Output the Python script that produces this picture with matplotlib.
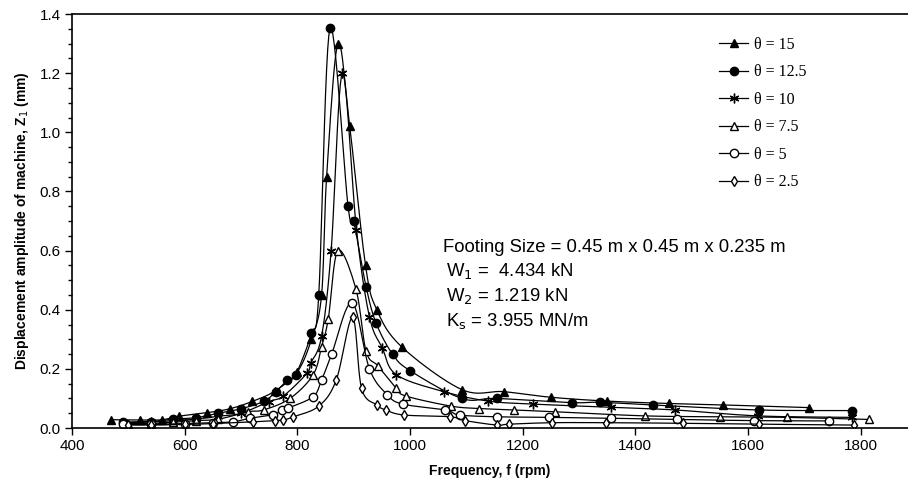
import numpy as np
import matplotlib
matplotlib.use("Agg")
import matplotlib.pyplot as plt
from matplotlib.ticker import MultipleLocator

# theta = 15
f15 = [470, 520, 560, 590, 640, 680, 720, 760, 800, 825, 843, 852, 872, 893, 921, 941, 985, 1092, 1166, 1250, 1350, 1459, 1556, 1709]
z15 = [0.028, 0.027, 0.028, 0.040, 0.052, 0.065, 0.090, 0.125, 0.190, 0.300, 0.450, 0.850, 1.300, 1.020, 0.550, 0.400, 0.275, 0.130, 0.123, 0.104, 0.091, 0.083, 0.078, 0.069]
# theta = 12.5
f125 = [490, 540, 580, 620, 660, 700, 740, 762, 782, 797, 825, 838, 858, 890, 900, 922, 940, 969, 1000, 1092, 1154, 1287, 1337, 1431, 1620, 1784]
z125 = [0.020, 0.022, 0.030, 0.035, 0.050, 0.065, 0.090, 0.123, 0.162, 0.180, 0.320, 0.450, 1.353, 0.750, 0.700, 0.478, 0.354, 0.250, 0.194, 0.100, 0.100, 0.086, 0.087, 0.078, 0.061, 0.059]
# theta = 10
f10 = [490, 540, 580, 620, 660, 700, 749, 775, 817, 824, 843, 860, 880, 905, 928, 951, 976, 1060, 1139, 1218, 1356, 1471, 1618, 1784]
z10 = [0.018, 0.020, 0.025, 0.030, 0.040, 0.050, 0.089, 0.108, 0.185, 0.220, 0.310, 0.600, 1.200, 0.670, 0.376, 0.270, 0.180, 0.123, 0.091, 0.081, 0.070, 0.061, 0.041, 0.036]
# theta = 7.5
f75 = [500, 540, 580, 620, 660, 713, 740, 787, 828, 843, 855, 872, 904, 922, 943, 976, 993, 1073, 1123, 1185, 1257, 1417, 1550, 1669, 1815]
z75 = [0.015, 0.015, 0.020, 0.025, 0.030, 0.055, 0.061, 0.100, 0.180, 0.275, 0.370, 0.600, 0.470, 0.260, 0.210, 0.134, 0.108, 0.074, 0.066, 0.061, 0.055, 0.041, 0.038, 0.036, 0.029]
# theta = 5
f5 = [490, 540, 600, 650, 686, 716, 757, 772, 784, 828, 843, 861, 897, 928, 960, 987, 1063, 1088, 1155, 1246, 1357, 1474, 1611, 1743]
z5 = [0.012, 0.012, 0.015, 0.018, 0.021, 0.033, 0.045, 0.060, 0.068, 0.106, 0.162, 0.250, 0.424, 0.200, 0.112, 0.081, 0.061, 0.044, 0.038, 0.036, 0.033, 0.029, 0.025, 0.024]
# theta = 2.5
f25 = [500, 540, 600, 650, 722, 760, 775, 793, 838, 869, 898, 914, 941, 957, 989, 1071, 1098, 1154, 1176, 1252, 1348, 1485, 1620, 1788]
z25 = [0.010, 0.010, 0.012, 0.015, 0.021, 0.025, 0.027, 0.038, 0.074, 0.162, 0.374, 0.134, 0.078, 0.061, 0.044, 0.038, 0.025, 0.010, 0.013, 0.018, 0.018, 0.016, 0.013, 0.010]

series = [
    (f15, z15, "θ = 15", dict(marker="^", mfc="black", ms=6)),
    (f125, z125, "θ = 12.5", dict(marker="o", mfc="black", ms=6)),
    (f10, z10, "θ = 10", dict(marker=(6, 2, 0), mfc="black", ms=7, mew=1.0)),
    (f75, z75, "θ = 7.5", dict(marker="^", mfc="white", ms=6)),
    (f5, z5, "θ = 5", dict(marker="o", mfc="white", ms=6)),
    (f25, z25, "θ = 2.5", dict(marker="d", mfc="white", ms=5)),
]


def smooth(x, y, n=12):
    # Catmull-Rom style smoothing between the points
    x = np.asarray(x, float)
    y = np.asarray(y, float)
    px = np.concatenate([[2*x[0]-x[1]], x, [2*x[-1]-x[-2]]])
    py = np.concatenate([[2*y[0]-y[1]], y, [2*y[-1]-y[-2]]])
    xs, ys = [], []
    t = np.linspace(0, 1, n, endpoint=False)
    for i in range(1, len(px)-2):
        for arr, out in ((px, xs), (py, ys)):
            p0, p1, p2, p3 = arr[i-1], arr[i], arr[i+1], arr[i+2]
            out.extend(0.5*((2*p1) + (-p0+p2)*t + (2*p0-5*p1+4*p2-p3)*t**2 + (-p0+3*p1-3*p2+p3)*t**3))
    xs.append(x[-1]); ys.append(y[-1])
    return np.array(xs), np.array(ys)


fig = plt.figure(figsize=(9.08, 4.86), dpi=100)
ax = fig.add_axes([0.0793, 0.1193, 0.9207, 0.8518])

handles = []
for f, z, lab, st in series:
    sx, sy = smooth(f, z)
    ax.plot(sx, sy, color="black", lw=0.9)
    ax.plot(f, z, ls="none", mec="black", color="black", **st)
    h, = ax.plot([], [], color="black", lw=0.9, **st)
    handles.append((h, lab))

ax.set_xlim(400, 1884)
ax.set_ylim(0, 1.4)
ax.xaxis.set_major_locator(MultipleLocator(200))
ax.yaxis.set_major_locator(MultipleLocator(0.2))
ax.yaxis.set_minor_locator(MultipleLocator(0.05))
ax.yaxis.set_major_formatter(matplotlib.ticker.FormatStrFormatter("%.1f"))
ax.spines["right"].set_visible(False)
for s in ["left", "bottom", "top"]:
    ax.spines[s].set_linewidth(1.2)
ax.tick_params(direction="out", length=5, width=1, labelsize=11, pad=3)
ax.tick_params(which="minor", direction="out", length=3, width=1)
for lbl in ax.get_xticklabels() + ax.get_yticklabels():
    lbl.set_fontfamily("Liberation Sans")

ax.set_xlabel("Frequency, f (rpm)", fontsize=10, fontweight="bold", family="Liberation Sans", labelpad=8)
ax.set_ylabel("Displacement amplitude of machine, Z$_1$ (mm)", fontsize=10, fontweight="bold",
              family="Liberation Sans", labelpad=6)

leg = ax.legend([h for h, _ in handles], [l for _, l in handles], loc="upper left",
                bbox_to_anchor=(0.757, 0.98), frameon=False, handlelength=1.8, handletextpad=0.4,
                labelspacing=0.72, prop={"family": "Liberation Serif", "size": 11.5})

txt = dict(transform=ax.transData, fontsize=13.3, family="Liberation Sans", va="center")
ax.text(1059, 0.612, "Footing Size = 0.45 m x 0.45 m x 0.235 m", **txt)
ax.text(1064, 0.530, "W$_1$ =  4.434 kN", **txt)
ax.text(1064, 0.447, "W$_2$ = 1.219 kN", **txt)
ax.text(1064, 0.362, "K$_\\mathrm{s}$ = 3.955 MN/m", **txt)

fig.savefig("out.png", dpi=100)
